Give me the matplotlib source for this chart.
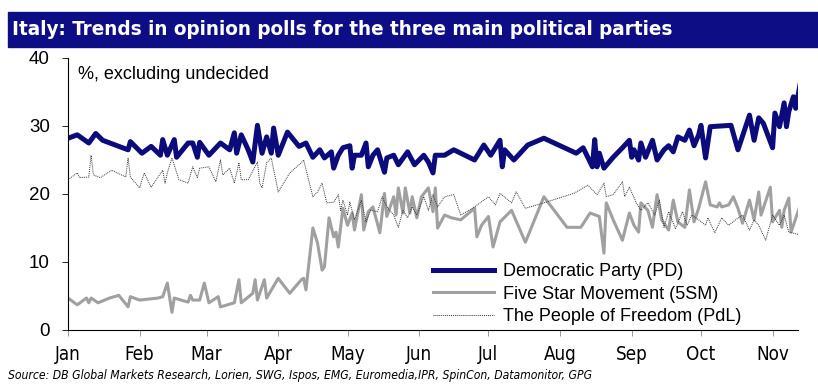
import pandas as pd
import matplotlib
matplotlib.use("Agg")
import matplotlib.pyplot as plt
from matplotlib.patches import Rectangle
from matplotlib import font_manager

# Datos (dias desde el 1 de enero, % sin indecisos)
# ===================================================================================================
pd_dias = [0, 4, 9, 12, 15, 26, 27, 32, 36, 40, 41, 43, 46, 47, 52, 54, 56, 57, 61, 66,
           70, 72, 73, 75, 78, 80, 82, 84, 86, 88, 89, 91, 95, 100, 103, 106, 109, 111, 114, 115,
           117, 119, 122, 123, 124, 127, 129, 130, 132, 134, 137, 138, 141, 143, 147, 150, 154, 156, 158, 159,
           163, 167, 176, 180, 183, 187, 188, 189, 193, 199, 206, 220, 223, 227, 228, 229, 230, 232, 236, 240,
           243, 244, 245, 247, 248, 250, 253, 255, 258, 260, 262, 264, 267, 269, 271, 273, 274, 276, 278, 287,
           290, 295, 297, 299, 301, 305, 306, 308, 310, 311, 312, 314, 315, 317]
pd_valores = [28.2, 28.7, 27.5, 28.9, 27.9, 26.5, 27.7, 26.0, 27.0, 25.7, 28.0, 25.7, 28.0, 25.4, 27.5, 27.5, 25.4, 27.6, 25.7, 27.5,
              26.5, 29.0, 26.0, 28.7, 26.5, 24.7, 30.1, 26.0, 28.4, 26.0, 29.7, 25.7, 29.1, 27.0, 27.5, 25.4, 26.5, 25.3, 26.2, 23.8,
              25.7, 26.8, 27.1, 23.8, 25.7, 25.7, 27.5, 24.0, 25.7, 26.5, 23.2, 25.3, 25.7, 24.3, 26.2, 24.3, 25.7, 24.7, 23.1, 25.7,
              25.7, 26.5, 25.0, 27.2, 25.7, 27.9, 24.0, 26.5, 25.0, 27.2, 28.2, 26.0, 26.8, 24.0, 28.0, 24.0, 26.0, 23.8, 25.4, 26.8,
              27.9, 25.4, 26.5, 25.0, 27.5, 25.4, 27.9, 25.0, 26.5, 27.1, 26.2, 28.4, 27.9, 29.4, 27.1, 28.7, 30.1, 25.3, 29.9, 30.1,
              26.5, 31.6, 27.9, 31.2, 30.4, 26.8, 31.9, 29.9, 33.4, 29.9, 32.1, 34.3, 32.6, 36.3]

m5s_dias = [0, 4, 8, 9, 10, 13, 18, 22, 26, 27, 31, 39, 41, 43, 45, 46, 52, 53, 54, 57,
            59, 61, 65, 66, 72, 74, 75, 80, 81, 82, 85, 86, 91, 96, 101, 102, 103, 106, 108, 110,
            111, 113, 115, 116, 117, 119, 121, 123, 124, 127, 128, 130, 132, 135, 137, 138, 141, 142, 143, 145,
            146, 148, 149, 151, 153, 156, 158, 159, 160, 163, 166, 170, 176, 177, 179, 182, 184, 187, 192, 198,
            206, 216, 222, 226, 230, 232, 233, 236, 240, 243, 245, 247, 248, 251, 253, 255, 257, 260, 262, 264,
            267, 269, 271, 273, 276, 278, 281, 282, 283, 286, 288, 290, 292, 295, 297, 299, 300, 304, 305, 308,
            309, 310, 312, 313, 317]
m5s_valores = [4.7, 3.7, 4.7, 4.0, 4.7, 4.0, 4.7, 5.1, 3.4, 4.9, 4.4, 4.7, 4.9, 6.9, 2.6, 4.7, 4.1, 5.1, 4.4, 4.4,
               6.9, 4.0, 4.9, 3.4, 4.0, 7.4, 4.0, 5.4, 7.4, 4.4, 7.4, 4.7, 7.6, 5.4, 7.4, 7.6, 5.9, 15.0, 12.8, 8.8,
               9.3, 16.5, 13.7, 14.4, 12.2, 17.9, 15.4, 17.2, 14.7, 19.9, 14.7, 17.4, 18.1, 14.3, 20.1, 16.7, 19.6, 16.9, 20.9, 17.2,
               20.9, 17.2, 19.6, 16.5, 19.6, 20.9, 17.4, 20.9, 15.0, 16.9, 16.5, 16.2, 17.9, 13.7, 15.4, 16.7, 12.2, 15.9, 17.6, 12.9,
               19.6, 15.1, 15.1, 17.2, 16.7, 11.3, 18.7, 16.2, 13.2, 17.2, 15.4, 14.4, 18.7, 17.6, 15.1, 19.9, 16.2, 14.7, 19.1, 15.9,
               15.1, 20.6, 15.9, 17.9, 21.8, 18.4, 18.1, 18.7, 18.1, 18.4, 19.6, 17.9, 15.7, 19.1, 16.2, 20.3, 16.9, 21.0, 15.9, 17.6,
               15.1, 17.6, 19.4, 14.4, 18.4]

pdl_dias = [0, 4, 5, 9, 10, 11, 14, 19, 25, 26, 27, 31, 33, 36, 39, 41, 42, 43, 45, 48,
            52, 54, 56, 57, 61, 64, 66, 67, 70, 72, 74, 75, 78, 82, 83, 84, 86, 88, 90, 91,
            96, 101, 102, 106, 108, 110, 112, 115, 117, 118, 119, 121, 122, 124, 127, 129, 131, 134, 136, 138,
            141, 143, 145, 147, 149, 151, 154, 156, 158, 160, 163, 167, 170, 176, 182, 185, 187, 192, 194, 198,
            206, 219, 225, 229, 232, 233, 236, 240, 241, 243, 246, 248, 251, 254, 256, 258, 260, 263, 266, 268,
            270, 273, 276, 277, 280, 283, 286, 289, 292, 295, 297, 299, 302, 305, 308, 310, 312, 317]
pdl_valores = [22.1, 23.1, 22.4, 22.5, 25.7, 22.8, 22.4, 23.5, 22.5, 25.3, 22.5, 20.9, 23.1, 21.0, 22.5, 23.5, 21.6, 23.1, 25.3, 22.1,
               21.6, 24.0, 22.4, 23.8, 24.0, 21.8, 25.0, 22.8, 23.8, 21.6, 24.6, 22.1, 22.1, 24.7, 21.6, 20.9, 24.6, 25.3, 22.0, 20.3,
               23.1, 24.6, 25.0, 19.6, 20.3, 21.6, 18.7, 18.8, 19.9, 17.6, 19.1, 16.9, 18.8, 16.2, 19.1, 15.9, 17.6, 17.4, 19.6, 18.1,
               16.9, 15.1, 17.6, 16.5, 18.1, 16.9, 19.6, 17.6, 19.9, 18.1, 19.6, 19.9, 16.9, 18.1, 19.6, 18.4, 20.1, 18.7, 20.3, 17.9,
               18.7, 20.1, 21.3, 19.9, 21.6, 19.6, 19.9, 21.8, 19.6, 21.0, 18.7, 17.6, 18.7, 16.9, 19.1, 15.1, 17.4, 14.9, 17.4, 15.4,
               16.9, 16.2, 15.4, 16.5, 14.3, 16.5, 15.4, 16.2, 16.9, 14.7, 16.2, 15.4, 13.2, 16.9, 15.4, 16.9, 14.4, 14.0]

meses = ["Jan", "Feb", "Mar", "Apr", "May", "Jun", "Jul", "Aug", "Sep", "Oct", "Nov"]
etiquetas = ["Democratic Party (PD)", "Five Star Movement (5SM)", "The People of Freedom (PdL)"]
titulo = "Italy: Trends in opinion polls for the three main political parties"
fuente = "Source: DB Global Markets Research, Lorien, SWG, Ispos, EMG, Euromedia,IPR, SpinCon, Datamonitor, GPG"

inicio = pd.Timestamp("2012-01-01")
def fechas(dias):
    return inicio + pd.to_timedelta(dias, unit="D")

# Fuente estrecha (tipo Arial Narrow) si existe
# ===================================================================================================
fuentes = font_manager.fontManager.ttflist
nombres = {f.name for f in fuentes}
estrecha = {"family": ["Liberation Sans", "DejaVu Sans"]}
if "Liberation Sans Narrow" in nombres:
    estrecha = {"family": ["Liberation Sans Narrow", "DejaVu Sans"]}
elif any(f.name == "DejaVu Sans" and "condensed" in str(f.stretch) for f in fuentes):
    estrecha = {"family": ["DejaVu Sans"], "stretch": "condensed"}

# Gráfico
# ===================================================================================================
plt.rcParams["font.family"] = ["Liberation Sans", "DejaVu Sans"]

fig = plt.figure(figsize=(8.18, 3.91), dpi=100)
ax = fig.add_axes([68 / 818, 61 / 391, 730 / 818, 272 / 391])

ax.plot(fechas(pd_dias), pd_valores, color="#0b0b7c", lw=3.6, label=etiquetas[0])
ax.plot(fechas(m5s_dias), m5s_valores, color="#a0a0a0", lw=2.2, label=etiquetas[1])
ax.plot(fechas(pdl_dias), pdl_valores, color="#333333", lw=0.7, linestyle=(0, (1, 1)), label=etiquetas[2])

ax.set_ylim(0, 40)
ax.set_yticks([0, 10, 20, 30, 40])
ax.set_xlim(inicio, pd.Timestamp("2012-11-12"))
ax.set_xticks(pd.date_range("2012-01-01", "2012-11-01", freq="MS"))
ax.set_xticklabels(meses, fontsize=13.5, **estrecha)
ax.tick_params(axis="x", direction="out", length=4, width=0.6, color="#888888", pad=7)
ax.tick_params(axis="y", direction="out", length=4, width=0.6, labelsize=13.5, pad=9)
for s in ["top", "right"]:
    ax.spines[s].set_visible(False)

ax.text(0.014, 0.94, "%, excluding undecided", transform=ax.transAxes, fontsize=13, va="center")

ax.legend(loc="lower left", bbox_to_anchor=(0.49, -0.01), frameon=False, fontsize=13,
          handlelength=3.4, handletextpad=0.5, labelspacing=0.32, borderaxespad=0)

# titulo:
fig.patches.append(Rectangle((8 / 818, (391 - 47) / 391), 810 / 818, 35 / 391,
                             transform=fig.transFigure, color="#0d0d85", zorder=0))
t = fig.text(12 / 818, (391 - 29.5) / 391, titulo, color="white", fontsize=17,
             weight="bold", va="center", **estrecha)
s = fig.text(8 / 818, (391 - 376) / 391, fuente, fontsize=9, style="italic", va="center", **estrecha)

# ajustar el ancho de los textos al de la imagen original
fig.canvas.draw()
r = fig.canvas.get_renderer()
for txt, ancho in [(t, 660), (s, 587)]:
    w = txt.get_window_extent(r).width
    txt.set_fontsize(txt.get_fontsize() * ancho / w)

plt.savefig("out.png", dpi=100)
